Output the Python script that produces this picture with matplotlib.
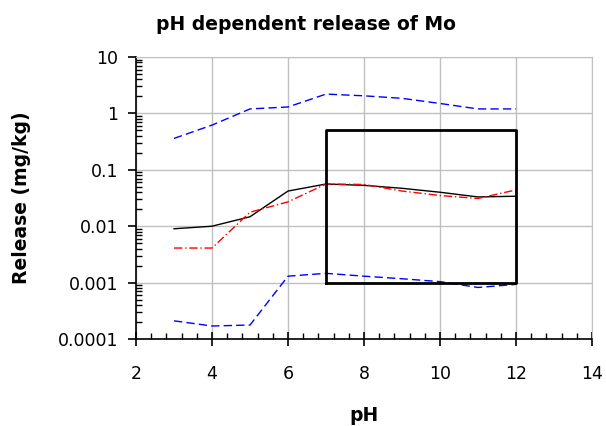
import matplotlib.pyplot as plt
from matplotlib.ticker import MultipleLocator, LogLocator, FixedLocator, NullFormatter

# pH values
ph = [3, 4, 5, 6, 7, 8, 9, 10, 11, 12]

# release curves (mg/kg)
upper_blue = [0.36, 0.62, 1.2, 1.3, 2.2, 2.05, 1.85, 1.5, 1.2, 1.2]
black_line = [0.009, 0.0100, 0.0147, 0.042, 0.056, 0.053, 0.047, 0.040, 0.033, 0.034]
red_line = [0.0041, 0.0041, 0.0177, 0.027, 0.056, 0.055, 0.042, 0.035, 0.031, 0.044]
lower_blue = [0.00021, 0.00017, 0.000177, 0.0013, 0.00146, 0.0013, 0.00117, 0.00104, 0.00082, 0.00093]

# box marking the regulatory window
box_ph = [7, 12]
box_release = [0.001, 0.5]

fig = plt.figure(figsize=(6.06, 4.26), dpi=100)
ax = fig.add_axes([136 / 606, 1 - 339 / 426, (592 - 136) / 606, (339 - 57) / 426])

ax.plot(ph, upper_blue, color='blue', linestyle=(0, (6, 3)), linewidth=1)
ax.plot(ph, lower_blue, color='blue', linestyle=(0, (6, 3)), linewidth=1)
ax.plot(ph, black_line, color='black', linewidth=1)
ax.plot(ph, red_line, color='red', linestyle=(0, (6, 2, 1, 2)), linewidth=1)

x0, x1 = box_ph
y0, y1 = box_release
ax.plot([x0, x1, x1, x0, x0], [y0, y0, y1, y1, y0], color='black', linewidth=2)

ax.set_yscale('log')
ax.set_xlim(2, 14)
ax.set_ylim(0.0001, 10)

ax.xaxis.set_major_locator(MultipleLocator(2))
ax.xaxis.set_minor_locator(MultipleLocator(0.4))
ax.yaxis.set_major_locator(FixedLocator([0.0001, 0.001, 0.01, 0.1, 1, 10]))
ax.yaxis.set_minor_locator(LogLocator(base=10, subs=range(2, 10)))
ax.yaxis.set_minor_formatter(NullFormatter())
ax.set_yticklabels(['0.0001', '0.001', '0.01', '0.1', '1', '10'])

ax.grid(True, which='major', color='#c0c0c0', linewidth=1)
ax.set_axisbelow(True)
for side in ['top', 'right']:
    ax.spines[side].set_color('#c0c0c0')
for side in ['left', 'bottom']:
    ax.spines[side].set_linewidth(1.2)

ax.tick_params(which='major', labelsize=12.5, width=1.2)
ax.tick_params(axis='x', which='major', direction='inout', length=10, pad=14)
ax.tick_params(axis='y', which='major', direction='out', length=6, pad=7)
ax.tick_params(which='minor', direction='in', length=4, width=1)

fig.text(0.505, 1 - 25 / 426, 'pH dependent release of Mo', fontsize=13.5,
         fontweight='bold', ha='center', va='center')
ax.set_xlabel('pH', fontsize=13.5, fontweight='bold', labelpad=16)
ax.set_ylabel('Release (mg/kg)', fontsize=13.5, fontweight='bold')
ax.yaxis.set_label_coords(-0.23, 0.5)

fig.savefig('out.png', dpi=100)
